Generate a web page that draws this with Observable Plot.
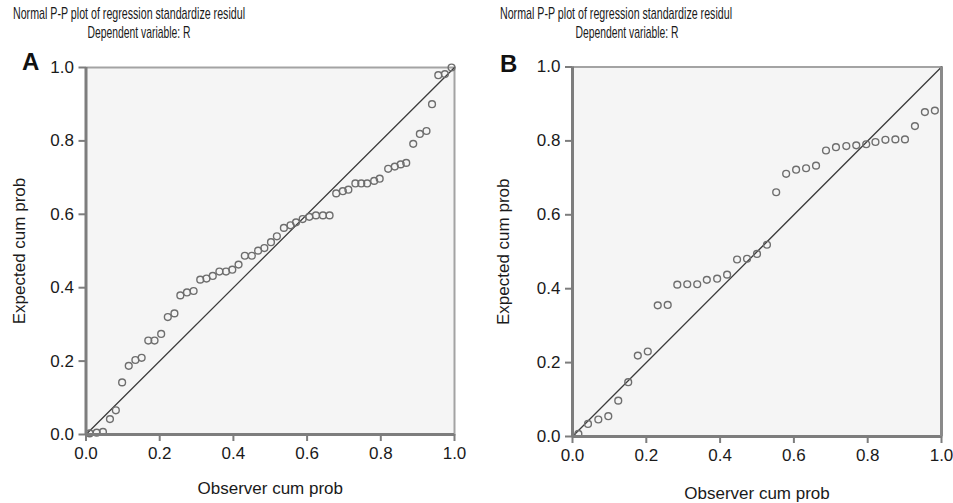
<!DOCTYPE html>
<html><head><meta charset="utf-8">
<script src="https://cdn.jsdelivr.net/npm/d3@7"></script>
<script src="https://cdn.jsdelivr.net/npm/@observablehq/plot@0.6"></script>
<style>
body{margin:0;background:#fff;}
#wrap{position:relative;width:953px;height:503px;overflow:hidden;font-family:"Liberation Sans",Arial,sans-serif;}
#wrap svg{position:absolute;top:0;}
</style></head><body><div id="wrap"></div>
<script>
// ---- data ----
const obsA = [0.010,0.029,0.046,0.065,0.081,0.098,0.116,0.134,0.151,0.169,0.186,0.204,0.222,0.240,0.256,0.274,0.292,0.310,0.327,0.344,0.362,0.380,0.397,0.414,0.431,0.450,0.467,0.484,0.502,0.518,0.537,0.555,0.570,0.588,0.606,0.624,0.643,0.661,0.679,0.697,0.712,0.731,0.747,0.763,0.782,0.797,0.820,0.838,0.854,0.869,0.888,0.906,0.924,0.939,0.956,0.974,0.992];
const expA = [0.003,0.005,0.007,0.042,0.066,0.142,0.187,0.203,0.209,0.256,0.256,0.274,0.320,0.330,0.379,0.387,0.391,0.422,0.425,0.432,0.444,0.444,0.449,0.463,0.487,0.487,0.501,0.508,0.524,0.540,0.563,0.570,0.578,0.587,0.593,0.597,0.597,0.597,0.657,0.663,0.667,0.684,0.684,0.684,0.691,0.697,0.724,0.730,0.736,0.740,0.792,0.819,0.827,0.900,0.979,0.982,1.000];
const obsB = [0.016,0.042,0.070,0.097,0.124,0.151,0.177,0.204,0.231,0.258,0.284,0.311,0.338,0.364,0.392,0.419,0.446,0.473,0.500,0.527,0.552,0.579,0.606,0.633,0.660,0.687,0.714,0.742,0.769,0.796,0.821,0.848,0.875,0.901,0.928,0.955,0.982];
const expB = [0.007,0.034,0.046,0.055,0.097,0.147,0.219,0.230,0.355,0.356,0.411,0.412,0.412,0.424,0.427,0.438,0.479,0.481,0.494,0.519,0.661,0.711,0.722,0.726,0.733,0.774,0.783,0.786,0.788,0.791,0.797,0.803,0.804,0.804,0.840,0.878,0.882];
const tickValues = [0, 0.2, 0.4, 0.6, 0.8, 1.0];
const diagonal = [0, 1];
const titleLine1 = "Normal P-P plot of regression standardize residul";
const titleLine2 = "Dependent variable: R";
const xLabel = "Observer cum prob";
const yLabel = "Expected cum prob";
const panelLetters = ["A", "B"];

const font = "Liberation Sans, Arial, Helvetica, sans-serif";
const wrap = document.getElementById("wrap");

function panel(obs, exp, cfg) {
  const pts = obs.map((o, i) => ({obs: o, exp: exp[i]}));
  const marks = [
    Plot.frame({fill: "#f5f5f5", stroke: "#a3a3a3", strokeWidth: 2}),
    Plot.line(diagonal, {x: d => d, y: d => d, stroke: "#3c3c3c", strokeWidth: 1.3}),
    Plot.dot(pts, {x: "obs", y: "exp", r: 3.4, stroke: "#6e6e6e", strokeWidth: 1.4, fill: "none"}),
    Plot.ruleX([0], {stroke: "#7d7d7d", strokeWidth: 3}),
    Plot.ruleY([0], {stroke: "#7d7d7d", strokeWidth: 3}),
    Plot.axisX({ticks: tickValues, tickFormat: d3.format(".1f"), tickSize: 7, tickPadding: 5,
      stroke: "#7d7d7d", strokeWidth: 2, fontSize: 17, label: xLabel, labelAnchor: "center",
      labelArrow: "none", labelOffset: cfg.xLabelOffset}),
    Plot.axisY({ticks: tickValues, tickFormat: d3.format(".1f"), tickSize: 7, tickPadding: 5,
      stroke: "#7d7d7d", strokeWidth: 2, fontSize: 17, label: yLabel, labelAnchor: "center",
      labelArrow: "none", labelOffset: cfg.yLabelOffset})
  ];
  if (cfg.rightRule) marks.push(Plot.ruleX([1], {stroke: "#8a8a8a", strokeWidth: 3}));
  const svg = Plot.plot({
    width: cfg.width, height: 503,
    marginLeft: cfg.ml, marginRight: cfg.mr, marginTop: cfg.mt, marginBottom: cfg.mb,
    x: {domain: [0, 1]}, y: {domain: [0, 1]},
    style: {fontFamily: font, fontSize: "17px", color: "#1a1a1a", background: "transparent", overflow: "visible"},
    marks
  });
  svg.style.left = cfg.left + "px";
  wrap.appendChild(svg);
}

panel(obsA, expA, {left: 0, width: 476, ml: 85.5, mr: 22, mt: 67, mb: 69, xLabelOffset: 59, yLabelOffset: 73});
panel(obsB, expB, {left: 476, width: 477, ml: 96, mr: 12, mt: 66.5, mb: 67, xLabelOffset: 62, yLabelOffset: 76, rightRule: true});

// titles and panel letters
const ov = d3.select(wrap).append("svg").attr("width", 953).attr("height", 503)
  .style("left", "0px").style("pointer-events", "none").attr("font-family", font);
const titles = [
  {x: 129, len1: 232, x2: 139, len2: 103, lx: 22, ly: 70},
  {x: 616, len1: 232, x2: 627, len2: 103, lx: 500, ly: 72}
];
titles.forEach((t, i) => {
  ov.append("text").attr("x", t.x).attr("y", 19).attr("text-anchor", "middle").attr("font-size", 17)
    .attr("fill", "#1a1a1a").attr("textLength", t.len1).attr("lengthAdjust", "spacingAndGlyphs").text(titleLine1);
  ov.append("text").attr("x", t.x2).attr("y", 38).attr("text-anchor", "middle").attr("font-size", 17)
    .attr("fill", "#1a1a1a").attr("textLength", t.len2).attr("lengthAdjust", "spacingAndGlyphs").text(titleLine2);
  ov.append("text").attr("x", t.lx).attr("y", t.ly).attr("font-size", 24).attr("font-weight", "bold")
    .attr("fill", "#111").text(panelLetters[i]);
});
</script></body></html>
